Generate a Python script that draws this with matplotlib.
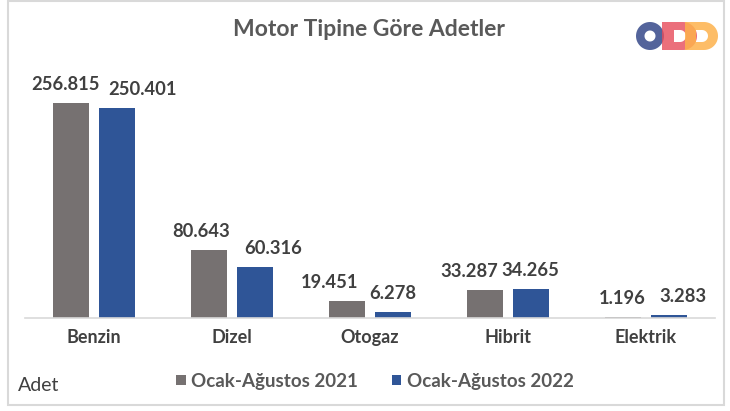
import numpy as np
import matplotlib
matplotlib.use("Agg")
import matplotlib.pyplot as plt
from matplotlib.path import Path
from matplotlib.patches import PathPatch, Rectangle

# data
categories = ["Benzin", "Dizel", "Otogaz", "Hibrit", "Elektrik"]
series_names = ["Ocak-Ağustos 2021", "Ocak-Ağustos 2022"]
values_2021 = [256815, 80643, 19451, 33287, 1196]
values_2022 = [250401, 60316, 6278, 34265, 3283]

# label nudges (pixels) so the numbers do not collide, like the original
dx_2021 = [-5, -8, -17, -16, -1]
dx_2022 = [25, 18, 0, -1, 14]

GRAY = "#767171"
BLUE = "#2F5597"
TXT = "#404040"

plt.rcParams["font.family"] = ["Lato", "DejaVu Sans"]

fig = plt.figure(figsize=(7.3, 4.11), dpi=100)
ax = fig.add_axes([25 / 730, (411 - 317.5) / 411, 690 / 730, 250 / 411])

x = np.arange(len(categories))
w = 0.265
off = 0.167
b1 = ax.bar(x - off, values_2021, w, color=GRAY, label=series_names[0])
b2 = ax.bar(x + off, values_2022, w, color=BLUE, label=series_names[1])

for bars, dxs in ((b1, dx_2021), (b2, dx_2022)):
    for bar, dx in zip(bars, dxs):
        v = bar.get_height()
        ax.annotate(f"{v:,}".replace(",", "."),
                    (bar.get_x() + bar.get_width() / 2, v),
                    xytext=(dx, 18.5), textcoords="offset pixels",
                    ha="center", va="center", fontsize=13.2,
                    fontweight="bold", color=TXT)

ax.set_xlim(-0.5, len(categories) - 0.5)
ax.set_ylim(0, 250 / 214.5 * 256815)
ax.set_xticks(x)
ax.set_xticklabels(categories, fontsize=13, fontweight="bold", color=TXT)
ax.tick_params(axis="x", length=0, pad=8)
ax.set_yticks([])
for s in ["top", "right", "left"]:
    ax.spines[s].set_visible(False)
ax.spines["bottom"].set_color("#D9D9D9")
ax.spines["bottom"].set_linewidth(1.2)

# title
fig.text(369 / 730, 1 - 29 / 411, "Motor Tipine Göre Adetler", ha="center",
         va="center", fontsize=16.5, fontweight="bold", color="#595959")

# legend
leg = fig.legend(loc="center", bbox_to_anchor=(375 / 730, 1 - 381 / 411),
                 ncol=2, frameon=False, fontsize=13.5, handlelength=0.5,
                 handleheight=0.5, handletextpad=0.3, columnspacing=1.8)
for t in leg.get_texts():
    t.set_color("#595959")
    t.set_fontweight("bold")

fig.text(18 / 730, 1 - 385 / 411, "Adet", ha="left", va="center",
         fontsize=14, color=TXT)

# overlay in pixel coordinates for frame and logo
ov = fig.add_axes([0, 0, 1, 1], zorder=-1)
ov.set_xlim(0, 730)
ov.set_ylim(411, 0)
ov.axis("off")
ov.add_patch(Rectangle((8, 1), 716, 404, fill=False, ec="#D9D9D9", lw=1.5))


def d_path(x0, xc, yc, R, hx0, hxc, r):
    a = np.linspace(np.pi / 2, -np.pi / 2, 30)
    outer = [(x0, yc - R)] + [(xc + R * np.cos(q), yc - R * np.sin(q)) for q in a] + [(x0, yc + R)]
    inner = [(hx0, yc - r)] + [(hxc + r * np.cos(q), yc - r * np.sin(q)) for q in a] + [(hx0, yc + r)]
    inner = inner[::-1]
    p1 = Path(outer + [outer[0]], closed=True)
    p2 = Path(inner + [inner[0]], closed=True)
    return Path.make_compound_path(p1, p2)


def ring_path(xc, yc, R, r):
    a = np.linspace(0, 2 * np.pi, 60)
    outer = [(xc + R * np.cos(q), yc + R * np.sin(q)) for q in a]
    inner = [(xc + r * np.cos(q), yc - r * np.sin(q)) for q in a]
    return Path.make_compound_path(Path(outer, closed=True), Path(inner, closed=True))


ov.add_patch(PathPatch(ring_path(650, 36, 14, 5.5), fc="#4B5C96", ec="none", alpha=0.95))
ov.add_patch(PathPatch(d_path(662, 683, 36, 14, 674, 680, 6), fc="#E64B5A", ec="none", alpha=0.8))
ov.add_patch(PathPatch(d_path(685, 704, 36, 14, 696, 702, 6), fc="#FDB24C", ec="none", alpha=0.85))

fig.savefig("out.png", dpi=100)
